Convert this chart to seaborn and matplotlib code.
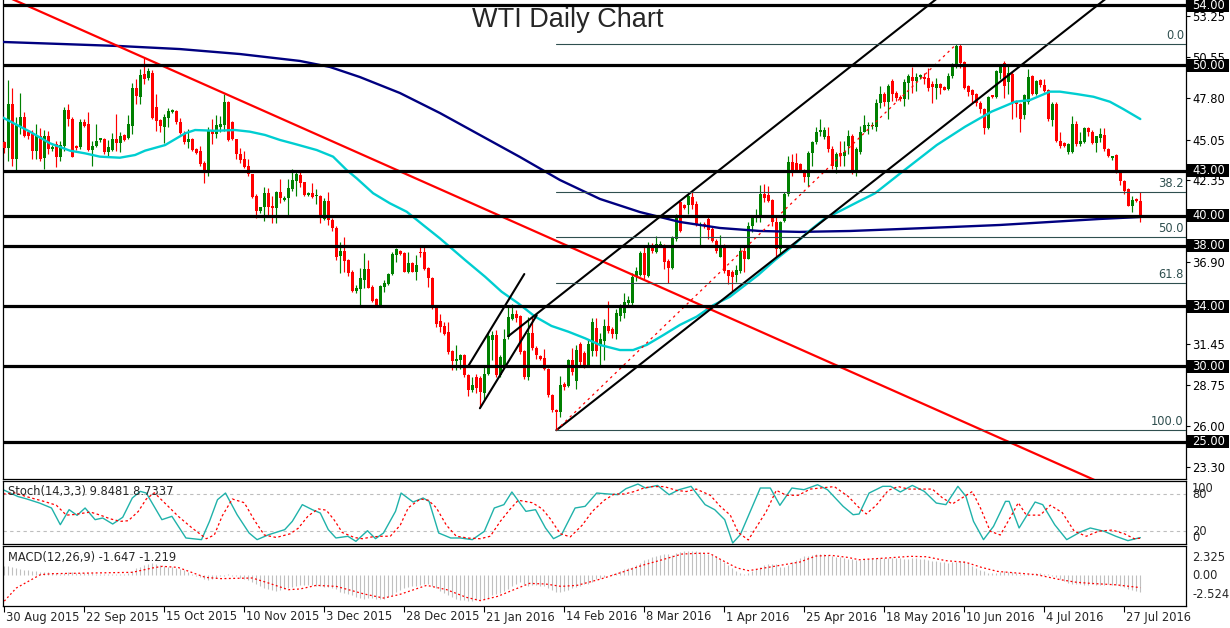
import numpy as np
import matplotlib
matplotlib.use("Agg")
import matplotlib.pyplot as plt
import seaborn as sns
from matplotlib.patches import Rectangle

sns.set_style("white")
plt.rcParams['font.family'] = ['DejaVu Sans']

# ---------------- data ----------------
opens = [
44.93, 44.49, 47.40, 43.78, 46.00, 46.56, 45.56, 45.44, 44.33, 45.33,
43.82, 45.27, 44.44, 44.78, 43.93, 44.67, 47.04, 46.44, 44.67, 44.56,
46.22, 46.07, 44.40, 44.62, 45.04, 45.11, 44.22, 44.40, 45.11, 44.82,
45.40, 45.18, 46.00, 48.51, 47.89, 49.40, 49.18, 49.50, 47.20, 46.36,
45.87, 46.53, 46.87, 46.98, 46.24, 45.42, 44.91, 45.13, 44.42, 44.31,
43.53, 43.02, 45.69, 45.42, 45.87, 46.02, 47.53, 46.20, 45.09, 44.13,
43.76, 43.31, 42.76, 41.31, 40.31, 40.58, 41.53, 40.64, 40.53, 41.60,
41.04, 41.16, 41.78, 42.33, 42.73, 42.22, 41.40, 41.51, 41.29, 41.29,
39.78, 40.96, 39.73, 39.22, 37.36, 37.67, 37.07, 36.24, 35.00, 35.13,
35.73, 36.47, 35.29, 34.47, 34.07, 35.29, 35.44, 36.11, 37.40, 37.69,
37.56, 36.29, 36.89, 36.29, 37.62, 37.62, 36.51, 35.89, 33.89, 32.98,
32.65, 32.27, 31.01, 30.35, 30.39, 30.73, 29.40, 28.40, 29.29, 29.24,
28.25, 29.51, 31.72, 32.05, 29.40, 30.06, 31.94, 33.16, 33.49, 33.31,
31.01, 29.29, 32.21, 31.23, 30.66, 30.57, 29.84, 28.07, 27.07, 26.96,
28.80, 28.70, 30.40, 29.00, 31.50, 30.89, 30.11, 31.00, 32.56, 31.34,
31.67, 32.71, 32.49, 32.12, 33.34, 33.56, 34.18, 34.23, 35.96, 36.05,
37.56, 36.00, 38.05, 37.60, 38.00, 38.05, 37.00, 36.56, 38.45, 40.89,
40.71, 40.71, 41.23, 40.78, 39.38, 39.45, 39.78, 39.12, 38.34, 37.23,
38.00, 36.40, 36.25, 36.04, 36.33, 37.67, 37.16, 39.33, 39.85, 39.89,
41.44, 41.38, 41.07, 39.56, 37.78, 39.67, 41.44, 43.60, 43.51, 43.42,
43.07, 42.56, 44.18, 44.89, 45.60, 45.22, 45.33, 44.44, 43.22, 44.18,
44.00, 44.67, 45.33, 42.89, 44.22, 45.60, 46.00, 46.00, 45.89, 47.51,
48.11, 47.58, 48.96, 48.18, 47.89, 47.73, 48.85, 49.22, 48.96, 49.22,
49.22, 49.13, 48.73, 48.51, 48.78, 48.56, 48.40, 49.29, 49.96, 51.29,
50.24, 48.62, 48.33, 48.07, 47.51, 47.07, 45.84, 48.00, 47.89, 49.51,
50.18, 48.90, 49.45, 47.56, 47.40, 46.67, 47.56, 49.29, 48.11, 49.00,
48.71, 48.38, 46.34, 47.45, 45.00, 44.85, 44.22, 44.22, 46.11, 44.78,
44.93, 45.84, 45.60, 44.85, 45.16, 45.40, 44.45, 43.82, 44.05, 42.89,
42.34, 41.78, 40.67, 41.11, 41.00]

highs = [
45.00, 49.04, 48.51, 46.56, 48.16, 46.93, 45.70, 45.67, 46.07, 45.84,
45.73, 45.62, 44.70, 45.00, 44.96, 47.22, 47.40, 46.56, 44.73, 46.44,
46.44, 46.89, 45.00, 46.07, 45.20, 45.16, 45.04, 45.49, 46.78, 45.56,
45.44, 46.67, 48.82, 49.11, 49.78, 50.50, 49.80, 49.70, 48.10, 46.40,
46.76, 47.16, 47.10, 47.00, 46.53, 45.65, 45.76, 45.20, 44.50, 44.64,
43.64, 45.91, 46.42, 46.71, 46.60, 48.09, 47.64, 46.31, 45.10, 44.53,
44.31, 43.76, 42.80, 41.42, 40.60, 41.91, 41.82, 41.31, 41.64, 42.42,
41.30, 42.42, 43.09, 43.07, 42.91, 42.24, 41.60, 42.18, 41.80, 41.40,
41.18, 41.58, 39.84, 39.29, 38.29, 38.62, 37.13, 36.40, 35.40, 36.51,
37.51, 37.07, 35.40, 34.51, 35.40, 35.73, 36.18, 37.62, 37.84, 37.73,
37.62, 37.58, 36.96, 37.40, 37.96, 37.96, 36.62, 35.96, 33.96, 33.49,
32.94, 32.94, 31.10, 31.39, 30.84, 30.79, 29.51, 29.29, 29.51, 29.33,
29.95, 32.27, 32.34, 32.38, 30.73, 32.49, 33.93, 34.16, 33.71, 33.38,
31.06, 33.27, 33.38, 31.32, 30.73, 31.17, 29.90, 28.18, 27.18, 29.33,
28.95, 30.50, 31.20, 31.40, 31.60, 31.00, 31.78, 33.22, 33.22, 32.23,
33.11, 34.34, 32.60, 33.78, 34.12, 34.89, 34.67, 36.23, 36.60, 37.67,
38.00, 38.23, 38.20, 38.67, 38.30, 38.12, 37.10, 38.67, 40.12, 41.00,
40.78, 41.45, 41.56, 41.00, 39.56, 39.60, 39.90, 39.23, 38.45, 38.71,
38.12, 36.40, 36.40, 36.70, 37.90, 38.00, 39.56, 40.00, 40.44, 42.04,
42.10, 42.00, 41.10, 40.00, 39.67, 41.56, 44.00, 44.10, 44.18, 43.50,
43.10, 44.33, 45.00, 45.89, 46.44, 45.89, 45.89, 44.67, 44.27, 45.00,
45.00, 45.67, 45.44, 44.56, 46.00, 46.71, 46.22, 46.20, 47.73, 48.62,
48.24, 48.73, 49.07, 48.29, 48.00, 49.07, 49.45, 49.89, 49.51, 49.40,
49.51, 49.80, 48.96, 49.18, 48.85, 48.62, 49.51, 50.18, 51.40, 51.40,
50.29, 48.69, 48.40, 48.18, 47.62, 47.18, 47.96, 48.05, 49.67, 50.07,
50.29, 50.07, 49.60, 47.67, 47.50, 48.11, 49.74, 49.38, 49.00, 49.07,
49.11, 48.45, 47.56, 47.56, 45.60, 44.93, 44.85, 46.62, 46.33, 45.56,
45.89, 45.89, 45.67, 45.33, 45.84, 45.84, 44.49, 44.00, 44.09, 43.00,
42.40, 41.82, 41.34, 41.16, 41.56]

lows = [
44.20, 43.67, 43.33, 42.89, 45.44, 45.22, 45.10, 43.78, 43.78, 43.67,
43.11, 44.11, 44.30, 43.22, 43.67, 44.33, 46.00, 43.89, 44.38, 44.44,
45.90, 44.33, 43.33, 44.56, 44.90, 44.11, 43.93, 44.33, 44.33, 44.22,
45.00, 45.11, 45.44, 47.40, 47.40, 48.78, 49.00, 46.40, 45.65, 45.60,
44.82, 45.87, 46.80, 46.10, 45.42, 44.76, 44.53, 44.31, 44.10, 43.31,
42.20, 42.64, 44.76, 45.16, 45.60, 45.64, 44.98, 45.02, 43.76, 43.53,
43.20, 42.64, 41.16, 39.87, 40.20, 39.64, 39.98, 39.53, 39.53, 40.87,
41.00, 39.98, 41.64, 41.33, 41.89, 41.29, 41.30, 41.18, 40.78, 39.51,
39.73, 39.40, 38.96, 37.07, 36.18, 36.29, 36.02, 34.96, 34.90, 34.07,
35.18, 35.18, 34.29, 33.96, 34.02, 34.96, 35.40, 36.07, 36.96, 37.40,
36.24, 36.18, 36.24, 35.73, 37.29, 36.40, 35.29, 33.80, 32.62, 32.27,
32.05, 30.84, 29.73, 29.77, 29.84, 29.29, 28.00, 28.29, 28.22, 27.30,
27.74, 29.40, 30.40, 29.29, 29.29, 29.95, 31.83, 33.05, 32.94, 30.84,
29.18, 29.07, 31.06, 30.50, 30.40, 29.73, 27.96, 26.96, 25.75, 26.60,
28.40, 28.60, 29.40, 28.50, 30.00, 29.90, 30.00, 30.67, 30.67, 30.11,
30.45, 32.23, 31.90, 31.78, 33.00, 33.23, 34.00, 34.00, 35.70, 36.00,
35.78, 35.90, 37.50, 37.56, 37.90, 36.45, 35.56, 36.45, 38.34, 38.90,
40.45, 40.12, 40.45, 39.34, 38.00, 39.20, 38.45, 38.23, 37.56, 37.23,
36.23, 35.50, 35.00, 35.60, 36.20, 36.27, 37.10, 38.90, 39.56, 39.56,
40.90, 40.90, 39.33, 37.10, 37.56, 39.56, 41.33, 42.67, 42.89, 42.90,
42.22, 42.00, 43.33, 44.78, 45.33, 45.10, 44.22, 43.11, 42.84, 43.33,
43.33, 44.11, 42.78, 42.67, 44.10, 45.56, 45.44, 45.80, 45.62, 47.18,
47.29, 46.40, 47.62, 47.62, 47.60, 47.29, 47.73, 48.18, 48.29, 49.10,
48.73, 48.29, 47.51, 47.73, 48.07, 48.33, 48.33, 49.18, 49.85, 49.85,
48.40, 47.96, 47.51, 47.29, 46.85, 45.44, 45.80, 47.80, 47.85, 49.07,
47.85, 48.07, 46.40, 46.56, 45.56, 46.45, 47.45, 48.00, 48.05, 48.56,
48.22, 46.27, 46.00, 44.89, 44.49, 44.56, 44.11, 44.18, 44.67, 44.62,
44.85, 45.33, 44.78, 44.22, 44.89, 44.33, 43.89, 43.73, 42.85, 42.05,
41.45, 40.63, 40.23, 40.89, 39.56]

closes = [
44.49, 47.40, 43.78, 46.07, 46.56, 45.33, 45.27, 44.33, 45.33, 43.78,
45.27, 44.44, 44.60, 43.93, 44.73, 47.04, 46.40, 43.93, 44.51, 46.22,
46.00, 44.40, 44.67, 45.00, 45.16, 44.22, 44.56, 45.11, 44.82, 45.33,
45.04, 46.07, 48.51, 47.96, 49.33, 49.11, 49.62, 46.53, 46.31, 45.94,
46.58, 46.98, 47.00, 46.20, 45.47, 44.91, 45.13, 44.38, 44.20, 43.42,
43.02, 45.64, 45.42, 46.04, 46.09, 47.53, 45.02, 45.09, 44.13, 43.71,
43.24, 42.76, 41.24, 40.31, 40.58, 41.53, 40.58, 40.53, 41.60, 41.20,
41.20, 41.82, 42.38, 42.78, 42.18, 41.40, 41.51, 41.24, 41.33, 39.84,
40.96, 39.69, 39.18, 37.29, 37.67, 37.00, 36.18, 35.00, 35.20, 35.84,
36.47, 35.22, 34.33, 34.07, 35.36, 35.51, 36.11, 37.44, 37.78, 37.47,
36.29, 36.89, 36.29, 36.73, 37.51, 36.47, 35.84, 33.84, 32.84, 32.60,
32.16, 30.95, 30.35, 30.46, 30.73, 29.40, 28.40, 28.73, 28.58, 28.29,
29.51, 31.99, 32.05, 29.40, 30.61, 31.83, 33.27, 33.45, 33.22, 30.95,
29.29, 32.21, 31.23, 30.73, 30.50, 29.84, 28.07, 27.07, 26.96, 28.73,
28.65, 30.40, 29.60, 31.10, 30.30, 30.11, 31.45, 32.94, 31.00, 31.83,
32.71, 32.34, 32.12, 33.56, 33.89, 34.27, 34.40, 35.96, 36.30, 37.56,
36.05, 38.05, 37.67, 38.12, 38.12, 36.94, 36.56, 38.56, 39.83, 39.00,
40.49, 41.34, 40.71, 39.45, 39.45, 39.30, 39.07, 38.34, 37.67, 38.00,
36.34, 36.00, 35.90, 36.40, 37.67, 37.16, 39.33, 39.89, 39.90, 41.44,
41.16, 41.00, 39.56, 37.78, 39.56, 41.44, 43.60, 43.07, 43.07, 43.07,
42.56, 44.18, 44.89, 45.56, 45.67, 45.67, 44.44, 43.33, 44.11, 44.00,
44.27, 45.33, 42.89, 44.44, 45.60, 46.04, 46.04, 46.04, 47.51, 48.11,
47.58, 48.62, 48.07, 47.85, 47.73, 48.91, 49.29, 48.96, 49.22, 49.33,
49.07, 48.51, 48.56, 48.78, 48.47, 48.33, 49.29, 49.96, 51.29, 50.18,
48.51, 48.25, 48.02, 47.51, 47.07, 45.84, 47.89, 47.89, 49.62, 50.00,
48.62, 49.50, 47.56, 47.45, 46.46, 48.00, 49.22, 48.11, 48.93, 48.67,
48.27, 46.45, 47.45, 45.00, 44.67, 44.67, 44.78, 46.11, 44.78, 45.00,
45.84, 45.56, 44.85, 45.29, 45.45, 44.45, 43.96, 43.96, 42.93, 42.34,
41.67, 40.67, 41.07, 40.96, 39.83]

# 50-period MA (cyan) read at bar positions
ma50_bar = [-0.3, 2.7, 6.4, 11.4, 16.4, 20.2, 23.9, 28.9, 32.7, 35.2, 40.2, 45.2, 47.7,
            52.7, 57.7, 61.4, 65.2, 68.9, 72.7, 78.1, 82.2, 85.6, 88.1, 92.2, 96.4, 100.6,
            104.7, 108.9, 115.2, 120.2, 124.3, 128.5, 132.7, 136.8, 141.0, 145.2, 148.9,
            153.9, 157.2, 160.6, 164.8, 168.9, 173.1, 177.3, 181.4, 188.5, 192.7, 196.9,
            201.0, 205.2, 209.4, 213.5, 217.7, 223.9, 230.2, 233.1, 240.2, 246.8, 252.7,
            256.4, 261.4, 263.9, 268.1, 272.3, 276.4, 279.7, 284.0]
ma50_val = [46.52, 46.10, 45.59, 44.82, 44.33, 44.15, 43.93, 43.86, 44.04, 44.33, 44.70,
            45.48, 45.70, 45.65, 45.70, 45.59, 45.37, 45.04, 44.77, 44.37, 43.93, 43.04,
            42.49, 41.50, 40.83, 40.27, 39.39, 38.50, 37.06, 35.95, 34.96, 34.18, 33.30,
            32.68, 32.30, 31.86, 31.42, 31.08, 31.08, 31.42, 32.08, 32.75, 33.30, 34.07,
            34.62, 36.07, 37.06, 37.95, 38.94, 39.83, 40.38, 40.94, 41.50, 42.80, 44.10,
            44.70, 45.92, 46.92, 47.58, 47.69, 48.25, 48.25, 48.09, 47.91, 47.58, 47.10,
            46.43]
# 200-period MA (navy)
ma200_bar = [-0.3, 13.9, 28.9, 43.9, 58.9, 73.9, 81.4, 88.9, 98.9, 108.9, 118.9, 128.9,
             138.9, 148.9, 158.9, 168.9, 178.9, 188.9, 198.9, 211.4, 223.9, 236.4, 248.9,
             261.4, 273.9, 283.9]
ma200_val = [51.55, 51.42, 51.28, 51.08, 50.75, 50.29, 49.89, 49.22, 48.16, 46.83, 45.37,
             43.91, 42.38, 41.12, 40.25, 39.59, 39.19, 38.99, 38.93, 38.99, 39.12, 39.25,
             39.39, 39.59, 39.79, 39.92]

# drawn objects: anchor points (bar, price)
red_trend_bar = [35.0, 271.4]
red_trend_val = [50.50, 22.58]
chan_low_bar = [138.0, 252.7]
chan_low_val = [25.75, 49.69]
chan_up_bar = [126.0, 232.7]
chan_up_val = [32.00, 54.34]
steep1_bar = [116.0, 130.0]
steep1_val = [30.02, 36.13]
steep2_bar = [118.9, 133.1]
steep2_val = [27.21, 33.39]
level_lines = [54.00, 50.00, 43.00, 40.00, 38.00, 34.00, 30.00, 25.00]
fib_bars = [138, 238]          # low bar, high bar
fib_prices = [25.75, 51.40]    # low, high
fib_ratios = [0.0, 38.2, 50.0, 61.8, 100.0]

price_ticks = [53.25, 50.55, 47.80, 45.05, 42.35, 36.90, 34.15, 31.45, 28.75, 26.00, 23.30]

# Stochastic (14,3,3)
stoch_k_bar = [-0.3, 3.4, 5.4, 8.8, 11.8, 14.0, 16.2, 18.2, 20.2, 22.7,
               24.6, 27.1, 29.6, 32.0, 34.0, 35.5, 39.4, 41.9, 45.4, 49.3,
               51.3, 53.3, 55.3, 58.2, 61.2, 63.2, 66.1, 70.1, 72.0, 74.5,
               77.0, 79.0, 81.0, 82.9, 85.9, 87.9, 90.8, 92.8, 94.8, 97.8,
               99.2, 102.2, 104.7, 106.2, 108.6, 111.6, 114.0, 117.0, 120.0, 122.5,
               124.9, 126.9, 130.4, 132.8, 135.3, 137.3, 139.3, 142.7, 145.2, 148.1,
               151.1, 153.4, 155.4, 158.4, 160.3, 163.3, 166.2, 168.7, 171.7, 175.2,
               177.6, 180.1, 182.1, 184.0, 189.0, 191.5, 193.9, 196.9, 199.9, 203.3,
               205.8, 209.7, 212.2, 213.7, 216.2, 219.6, 221.6, 224.0, 227.0, 230.0,
               233.0, 235.4, 238.4, 240.4, 242.3, 244.8, 247.3, 250.3, 251.2, 253.7,
               257.7, 259.6, 262.6, 265.6, 269.0, 271.5, 275.0, 277.9, 280.9, 284.0]
stoch_k_val = [87, 76, 72.5, 65.5, 57.5, 30.6, 54.8, 45.7, 57.5, 38.7,
               41.4, 31.7, 42.5, 73.6, 84.3, 81.6, 38.7, 44.1, 9.2, 6.5,
               36, 70.9, 81.6, 46.7, 17.2, 6.5, 14.5, 22.6, 36, 62.9,
               54.8, 49.4, 22.6, 9.2, 11.9, 3.8, 20.9, 8.1, 17.2, 52.1,
               81.6, 67.1, 73.6, 68.2, 17.2, 9.2, 9.2, 6.5, 19.9, 57.5,
               62.9, 83.3, 52.1, 54.8, 25.3, 8.1, 14.5, 57.5, 60.2, 81.6,
               80, 79, 88.6, 96.1, 89.7, 93.9, 78.9, 87, 92.4, 62.9,
               54.8, 38.7, 1.1, 14.5, 89.7, 89.7, 61.8, 89.7, 87, 95,
               87, 60.2, 46.7, 47.8, 81.6, 92.4, 92.4, 83.3, 93.9, 84.3,
               65.5, 62.9, 92.4, 76.3, 36, 6.5, 27.9, 68.2, 68.2, 25.3,
               67.1, 62.9, 30.6, 6.5, 18.8, 25.3, 19.9, 11.9, 4.9, 9.85]
stoch_d_bar = [-0.3, 2.5, 6.0, 10.0, 13.0, 15.5, 17.5, 19.5, 21.5, 24.0,
               26.5, 29.0, 31.0, 33.5, 35.5, 37.5, 41.0, 43.5, 47.0, 50.5,
               52.5, 54.5, 57.0, 60.0, 62.5, 65.0, 68.0, 71.5, 73.5, 76.0,
               78.5, 80.5, 82.5, 84.5, 87.5, 89.5, 92.0, 94.5, 96.5, 99.0,
               101.0, 104.0, 106.0, 108.0, 110.5, 113.0, 116.0, 119.0, 121.5, 124.0,
               126.5, 128.5, 132.0, 134.5, 136.5, 139.0, 141.5, 144.5, 147.0, 150.0,
               152.5, 155.0, 157.5, 160.0, 162.0, 165.0, 168.0, 170.5, 173.0, 176.5,
               179.0, 181.5, 183.5, 186.0, 190.5, 193.0, 195.5, 198.5, 201.5, 204.5,
               207.5, 211.0, 214.0, 215.5, 218.0, 221.0, 223.5, 226.0, 229.0, 232.0,
               234.5, 237.0, 240.0, 242.0, 244.0, 246.5, 249.0, 252.0, 253.5, 255.5,
               259.0, 261.5, 264.5, 267.5, 270.5, 273.5, 277.0, 280.0, 282.5, 284.0]
stoch_d_val = [80, 82, 75, 68, 62, 46, 47, 49, 51, 46,
               40, 36, 37, 52, 72, 82, 60, 44, 25, 8,
               14, 45, 72, 66, 38, 14, 10, 16, 25, 45,
               56, 54, 38, 18, 10, 8, 11, 12, 12, 30,
               58, 72, 70, 58, 30, 12, 9, 8, 12, 36,
               56, 70, 66, 56, 40, 16, 11, 30, 52, 70,
               80, 80, 84, 90, 92, 92, 86, 84, 88, 78,
               60, 46, 18, 6, 52, 86, 78, 78, 88, 90,
               92, 76, 56, 48, 62, 86, 92, 88, 88, 88,
               74, 64, 76, 84, 58, 20, 14, 48, 66, 46,
               46, 62, 50, 20, 12, 20, 22, 16, 8, 8.73]

# MACD (12,26,9): histogram per bar, signal line points
macd_hist = [
0.84, 0.90, 0.78, 0.66, 0.54, 0.48, 0.46, 0.40, 0.36, 0.34,
0.26, 0.26, 0.22, 0.18, 0.14, 0.18, 0.26, 0.30, 0.22, 0.18,
0.22, 0.24, 0.18, 0.14, 0.14, 0.14, 0.10, 0.10, 0.12, 0.12,
0.14, 0.22, 0.42, 0.66, 0.78, 0.96, 1.08, 1.14, 1.02, 0.94,
0.84, 0.78, 0.74, 0.70, 0.60, 0.46, 0.26, 0.10, -0.06, -0.22,
-0.36, -0.48, -0.36, -0.26, -0.14, -0.06, 0.06, -0.06, -0.14, -0.26,
-0.38, -0.50, -0.66, -0.86, -1.10, -1.26, -1.32, -1.42, -1.50, -1.46,
-1.38, -1.30, -1.18, -1.06, -0.96, -0.94, -0.96, -0.98, -1.02, -1.06,
-1.20, -1.20, -1.30, -1.38, -1.62, -1.74, -1.86, -1.98, -2.16, -2.26,
-2.28, -2.22, -2.26, -2.30, -2.36, -2.30, -2.16, -1.94, -1.68, -1.44,
-1.26, -1.18, -1.08, -1.02, -0.96, -0.86, -0.90, -1.02, -1.26, -1.56,
-1.78, -1.94, -2.16, -2.30, -2.40, -2.46, -2.50, -2.50, -2.46, -2.40,
-2.30, -2.18, -1.94, -1.80, -1.70, -1.56, -1.32, -1.06, -0.84, -0.72,
-0.86, -1.08, -0.98, -0.96, -1.02, -1.10, -1.22, -1.44, -1.68, -1.62,
-1.56, -1.46, -1.26, -1.20, -1.02, -0.90, -0.84, -0.66, -0.42, -0.30,
-0.18, -0.02, 0.14, 0.24, 0.38, 0.54, 0.66, 0.78, 0.98, 1.20,
1.42, 1.54, 1.74, 1.86, 1.94, 2.04, 2.02, 1.98, 2.14, 2.22,
2.28, 2.30, 2.325, 2.30, 2.24, 2.16, 2.06, 1.92, 1.80, 1.58,
1.30, 0.96, 0.66, 0.36, 0.22, 0.14, 0.24, 0.42, 0.60, 0.74,
0.96, 1.06, 1.10, 1.02, 0.78, 0.74, 0.94, 1.26, 1.46, 1.66,
1.80, 1.86, 1.98, 2.08, 2.02, 2.05, 1.98, 1.88, 1.78, 1.70,
1.64, 1.58, 1.52, 1.50, 1.46, 1.52, 1.58, 1.62, 1.64, 1.66,
1.66, 1.64, 1.64, 1.66, 1.62, 1.58, 1.58, 1.60, 1.60, 1.56,
1.52, 1.46, 1.40, 1.34, 1.28, 1.24, 1.20, 1.22, 1.28, 1.38,
1.32, 1.12, 0.90, 0.70, 0.52, 0.36, 0.20, 0.22, 0.22, 0.30,
0.38, 0.34, 0.32, 0.22, 0.14, 0.08, 0.08, 0.14, 0.18, 0.16,
0.14, 0.08, -0.08, -0.22, -0.40, -0.58, -0.74, -0.86, -0.84, -0.90,
-0.92, -0.92, -0.90, -0.92, -0.94, -0.94, -0.90, -0.94, -1.00, -1.08,
-1.20, -1.32, -1.44, -1.54, -1.647]
macd_sig_bar = [0, 3, 9, 12, 32, 37, 39.5, 43.4, 47.3, 50.3,
                54.2, 62, 66, 71, 74, 78, 83, 90, 94.8, 98.7,
                105.6, 110.6, 115.5, 119, 123.4, 127.4, 131.3, 135.3, 139.2, 143.2,
                149, 154.6, 159.5, 164.5, 169.4, 173.3, 176.3, 179.2, 183.2, 186.1,
                190, 194, 198.9, 202.9, 206.8, 210.8, 213.7, 220.6, 226.6, 230.5,
                235.4, 240.4, 244.3, 248.3, 254.2, 258.1, 264, 268, 272, 278, 284]
macd_sig_val = [-2.524, -1.26, 0.03, 0.13, 0.26, 0.68, 0.84, 0.74, 0.19, -0.23,
                -0.35, -0.29, -0.77, -1.42, -1.35, -1.00, -1.10, -1.84, -2.23, -1.90,
                -1.00, -1.42, -2.16, -2.48, -2.06, -1.42, -0.81, -0.87, -1.10, -1.00,
                -0.40, 0.29, 0.94, 1.48, 2.03, 2.10, 2.10, 1.48, 0.68, 0.42,
                0.68, 0.94, 1.26, 1.84, 1.90, 1.71, 1.48, 1.65, 1.81, 1.77,
                1.39, 1.23, 0.74, 0.35, 0.16, 0.03, -0.45, -0.70, -0.82, -0.95, -1.219]

date_tick_bars = [0, 20, 40, 60, 80, 100, 120, 140, 160, 180, 200, 220, 240, 260, 280]
date_labels = ['30 Aug 2015', '22 Sep 2015', '15 Oct 2015', '10 Nov 2015', '3 Dec 2015',
               '28 Dec 2015', '21 Jan 2016', '14 Feb 2016', '8 Mar 2016', '1 Apr 2016',
               '25 Apr 2016', '18 May 2016', '10 Jun 2016', '4 Jul 2016', '27 Jul 2016']

# ---------------- layout ----------------
W, H = 1230, 628
fig = plt.figure(figsize=(W / 100, H / 100), dpi=100, facecolor='white')


def px_rect(x0, y0, x1, y1):
    return [x0 / W, 1 - y1 / H, (x1 - x0) / W, (y1 - y0) / H]


ax = fig.add_axes(px_rect(3, 0, 1186, 479))
ax_st = fig.add_axes(px_rect(3, 481, 1186, 544))
ax_md = fig.add_axes(px_rect(3, 546, 1186, 606))
XMIN, XMAX = -0.325, 295.425
FS = 8.3

for a in (ax, ax_st, ax_md):
    a.set_facecolor('white')
    a.set_xlim(XMIN, XMAX)
    for s in a.spines.values():
        s.set_color('black')
        s.set_linewidth(0.9)
    a.tick_params(axis='x', bottom=False, labelbottom=False)
ax.spines['top'].set_visible(False)

# ---------------- main price panel ----------------
O = np.array(opens); Hh = np.array(highs); L = np.array(lows); C = np.array(closes)
idx = np.arange(len(C))
cols = np.where(C >= O, '#008000', '#ff0000')
ax.vlines(idx, L, Hh, colors=cols, linewidth=0.85, zorder=2)
ax.bar(idx, np.maximum(np.abs(C - O), 0.06), bottom=np.minimum(O, C), width=0.75,
       color=cols, linewidth=0, zorder=3)

sns.lineplot(x=ma200_bar, y=ma200_val, ax=ax, color='#000080', linewidth=1.7,
             estimator=None, sort=False, zorder=4)
sns.lineplot(x=ma50_bar, y=ma50_val, ax=ax, color='#00CED1', linewidth=1.7,
             estimator=None, sort=False, zorder=4)


def ray(bx, by, x_from, x_to, **kw):
    k = (by[1] - by[0]) / (bx[1] - bx[0])
    ax.plot([x_from, x_to], [by[0] + k * (x_from - bx[0]), by[0] + k * (x_to - bx[0])], **kw)


ray(red_trend_bar, red_trend_val, XMIN, XMAX, color='#ff0000', lw=1.6, zorder=5)
ray(chan_low_bar, chan_low_val, chan_low_bar[0], XMAX, color='black', lw=1.5, zorder=5)
ray(chan_up_bar, chan_up_val, chan_up_bar[0], XMAX, color='black', lw=1.5, zorder=5)
ax.plot(steep1_bar, steep1_val, color='black', lw=1.5, zorder=5)
ax.plot(steep2_bar, steep2_val, color='black', lw=1.5, zorder=5)

for lv in level_lines:
    ax.axhline(lv, color='black', lw=2.3, zorder=6)

fib_lo, fib_hi = fib_prices
for r in fib_ratios:
    p = fib_hi - r / 100.0 * (fib_hi - fib_lo)
    ax.plot([fib_bars[0], XMAX], [p, p], color='#2F4F4F', lw=0.8, zorder=5)
    ax.text(294.9, p + 0.12, f'{r:.1f}', ha='right', va='bottom', fontsize=FS,
            color='#2F4F4F', zorder=7)
ax.plot(fib_bars, fib_prices, color='#ff0000', lw=0.9, ls=(0, (2, 3)), zorder=5)

ax.set_ylim(22.51, 54.34)
ax.yaxis.tick_right()
ax.set_yticks(price_ticks)
ax.set_yticklabels([f'{v:.2f}' for v in price_ticks])
ax.tick_params(axis='y', length=3, width=0.8, pad=1.5, labelsize=FS, colors='black')

ytr = ax.get_yaxis_transform()
for lv in level_lines:
    ax.add_patch(Rectangle((1.0009, lv - 0.43), 0.0355, 0.86, transform=ytr,
                           facecolor='black', edgecolor='none', clip_on=False, zorder=10))
    ax.text(1.0052, lv, f'{lv:.2f}', transform=ytr, color='white', ha='left',
            va='center', fontsize=FS, zorder=11, clip_on=False)

fig.text(568 / W, 1 - 20 / H, 'WTI Daily Chart', ha='center', va='center',
         fontsize=19.5, family=['Liberation Sans', 'DejaVu Sans'])

# ---------------- stochastic panel ----------------
ax_st.set_ylim(-0.5, 101)
ax_st.axhline(80, color='#BEBEBE', lw=0.8, ls=(0, (3, 3)))
ax_st.axhline(20, color='#BEBEBE', lw=0.8, ls=(0, (3, 3)))
sns.lineplot(x=stoch_k_bar, y=stoch_k_val, ax=ax_st, color='#20B2AA', linewidth=1.0,
             estimator=None, sort=False)
sns.lineplot(x=stoch_d_bar, y=stoch_d_val, ax=ax_st, color='#ff0000', linewidth=0.9,
             linestyle=(0, (2, 2)), estimator=None, sort=False)
ax_st.set_yticks([])
ax_st.text(5 / 1183, 1 - 10 / 63, 'Stoch(14,3,3) 9.8481 8.7337', transform=ax_st.transAxes,
           fontsize=FS, va='center', ha='left')
st_tr = ax_st.get_yaxis_transform()
for v, t, va in [(100, '100', 'top'), (80, '80', 'center'), (20, '20', 'center'), (0, '0', 'bottom')]:
    ax_st.text(1.0052, v, t, transform=st_tr, fontsize=FS, va=va, ha='left', clip_on=False)

# ---------------- MACD panel ----------------
ax_md.set_ylim(-3.0, 2.81)
ax_md.vlines(idx, 0, macd_hist, colors='#C0C0C0', linewidth=0.8)
sns.lineplot(x=macd_sig_bar, y=macd_sig_val, ax=ax_md, color='#ff0000', linewidth=0.9,
             linestyle=(0, (1.5, 2)), estimator=None, sort=False)
ax_md.set_yticks([])
ax_md.text(5 / 1183, 0.8, 'MACD(12,26,9) -1.647 -1.219', transform=ax_md.transAxes,
           fontsize=FS, va='center', ha='left')
md_tr = ax_md.get_yaxis_transform()
for v, t, va in [(2.325, '2.325', 'top'), (0.0, '0.00', 'center'), (-2.524, '-2.524', 'bottom')]:
    ax_md.text(1.0052, v, t, transform=md_tr, fontsize=FS, va=va, ha='left', clip_on=False)

ax_md.set_xticks(date_tick_bars)
ax_md.tick_params(axis='x', bottom=True, length=4, width=0.8, direction='out',
                  labelbottom=False, colors='black')
xtr = ax_md.get_xaxis_transform()
for b, lab in zip(date_tick_bars, date_labels):
    ax_md.text(b + 0.45, -11 / 60, lab, transform=xtr, fontsize=FS, ha='left', va='center',
               clip_on=False)

for a in (ax, ax_st, ax_md):
    a.set_xlabel('')
    a.set_ylabel('')

fig.savefig('out.png', dpi=100, facecolor='white')
